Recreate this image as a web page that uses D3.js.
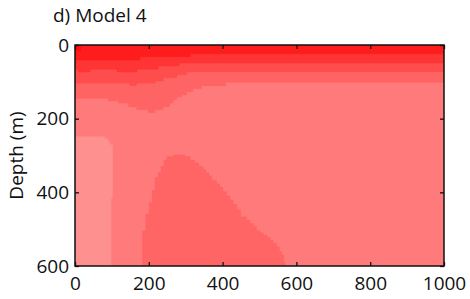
<!DOCTYPE html>
<html>
<head>
<meta charset="utf-8">
<script src="https://cdn.jsdelivr.net/npm/d3@7"></script>
<style>
  body { margin: 0; background: #fff; }
  text { font-family: "Open Sans", sans-serif; fill: #111; }
</style>
</head>
<body>
<script>
// tick labels
var xTicks = [0, 200, 400, 600, 800, 1000];
var yTicks = [0, 200, 400, 600];

// band boundaries: x breakpoints and depth (m) of the band's lower edge
var topCellX = [0, 16];
var topCellDepth = [16];
var abX = [0, 176, 312, 1000];
var abDepth = [41, 32, 24];
var bcX = [0, 8, 41, 114, 168, 225, 282, 1000];
var bcDepth = [66, 73, 66, 73, 66, 57, 49];
var cdX = [0, 149, 167, 217, 239, 276, 303, 1000];
var cdDepth = [104, 110, 104, 98, 89, 81, 73];
var deX = [0, 90, 117, 145, 167, 199, 217, 239, 257, 266, 276, 289, 303, 319, 343, 409, 1000];
var deDepth = [145, 152, 158, 168, 176, 184, 176, 168, 158, 149, 142, 136, 127, 119, 111, 102];

// light patch on the left: top and bottom depth per column
var lightX = [0, 81, 90, 95, 98, 102];
var lightTop = [249, 255, 263, 271, 271];
var lightBottom = [600, 600, 600, 600, 416];

// darker dome at the bottom: top depth per column
var domeX = [183, 192, 201, 209, 217, 225, 233, 241, 249, 266, 298, 312, 325, 336, 347, 355, 363, 371, 384, 393,
             401, 411, 420, 428, 438, 449, 465, 474, 483, 492, 501, 510, 520, 529, 537, 547, 554, 560, 566, 569];
var domeTop = [504, 459, 428, 394, 360, 346, 329, 312, 303, 298, 303, 312, 320, 329, 338, 346, 355, 368, 377, 386,
               398, 410, 420, 432, 447, 466, 475, 484, 493, 504, 510, 516, 522, 530, 538, 548, 561, 570, 590];

var colors = {
  cell: "#ff0f0f", a: "#ff1c1c", b: "#ff3434", c: "#ff4c4c",
  d: "#ff6464", e: "#ff7b7b", light: "#ff9090", dome: "#ff6565"
};

var width = 470, height = 299;
var mLeft = 75, mRight = 444, mTop = 45, mBottom = 266;

var svg = d3.select("body").append("svg")
  .attr("width", width)
  .attr("height", height);

var x = d3.scaleLinear().domain([0, 1000]).range([mLeft, mRight]);
var y = d3.scaleLinear().domain([0, 600]).range([mTop, mBottom]);

svg.append("clipPath").attr("id", "plot")
  .append("rect")
  .attr("x", mLeft).attr("y", mTop)
  .attr("width", mRight - mLeft).attr("height", mBottom - mTop);

var g = svg.append("g").attr("clip-path", "url(#plot)");

// turn edges + values into step points
function steps(xs, y0s, y1s) {
  var pts = xs.slice(0, -1).map(function(v, i) {
    return { x: v, y0: y0s[i], y1: y1s[i] };
  });
  var n = y0s.length - 1;
  pts.push({ x: xs[xs.length - 1], y0: y0s[n], y1: y1s[n] });
  return pts;
}

function zeros(a) { return a.map(function() { return 0; }); }
function fill(a, v) { return a.map(function() { return v; }); }

var area = d3.area()
  .curve(d3.curveStepAfter)
  .x(function(d) { return x(d.x); })
  .y0(function(d) { return y(d.y0); })
  .y1(function(d) { return y(d.y1); });

// background band
g.append("rect")
  .attr("x", x(0)).attr("y", y(0))
  .attr("width", x(1000) - x(0)).attr("height", y(600) - y(0))
  .attr("fill", colors.e);

var layers = [
  { xs: deX, d: deDepth, c: colors.d },
  { xs: cdX, d: cdDepth, c: colors.c },
  { xs: bcX, d: bcDepth, c: colors.b },
  { xs: abX, d: abDepth, c: colors.a },
  { xs: topCellX, d: topCellDepth, c: colors.cell }
];

layers.forEach(function(l) {
  g.append("path")
    .datum(steps(l.xs, zeros(l.d), l.d))
    .attr("d", area)
    .attr("fill", l.c)
    .attr("stroke", l.c)
    .attr("stroke-width", 0.4);
});

g.append("path")
  .datum(steps(lightX, lightBottom, lightTop))
  .attr("d", area)
  .attr("fill", colors.light)
  .attr("stroke", colors.light)
  .attr("stroke-width", 0.4);

g.append("path")
  .datum(steps(domeX, fill(domeTop, 600), domeTop))
  .attr("d", area)
  .attr("fill", colors.dome)
  .attr("stroke", colors.dome)
  .attr("stroke-width", 0.4);

// axes with inward ticks on all sides
var tick = 4;
function clean(sel) {
  sel.select(".domain").remove();
  sel.selectAll("line").attr("stroke", "#111").attr("stroke-width", 1.3);
  sel.selectAll("text").attr("font-size", 19).attr("font-family", "Open Sans").attr("fill", "#111");
}

svg.append("g").attr("transform", "translate(0," + mBottom + ")")
  .call(d3.axisBottom(x).tickValues(xTicks).tickSize(-tick).tickPadding(11).tickFormat(d3.format("d")))
  .call(clean);
svg.append("g").attr("transform", "translate(0," + mTop + ")")
  .call(d3.axisTop(x).tickValues(xTicks).tickSize(-tick).tickFormat(""))
  .call(clean);
svg.append("g").attr("transform", "translate(" + mLeft + ",0)")
  .call(d3.axisLeft(y).tickValues(yTicks).tickSize(-tick).tickPadding(6).tickFormat(d3.format("d")))
  .call(clean);
svg.append("g").attr("transform", "translate(" + mRight + ",0)")
  .call(d3.axisRight(y).tickValues(yTicks).tickSize(-tick).tickFormat(""))
  .call(clean);

// frame
svg.append("rect")
  .attr("x", mLeft).attr("y", mTop)
  .attr("width", mRight - mLeft).attr("height", mBottom - mTop)
  .attr("fill", "none")
  .attr("stroke", "#111")
  .attr("stroke-width", 1.5);

// labels
svg.append("text")
  .attr("x", 53).attr("y", 21.5)
  .attr("font-size", 19)
  .text("d) Model 4");

svg.append("text")
  .attr("transform", "translate(22.5," + ((mTop + mBottom) / 2) + ") rotate(-90)")
  .attr("text-anchor", "middle")
  .attr("font-size", 19)
  .text("Depth (m)");
</script>
</body>
</html>
